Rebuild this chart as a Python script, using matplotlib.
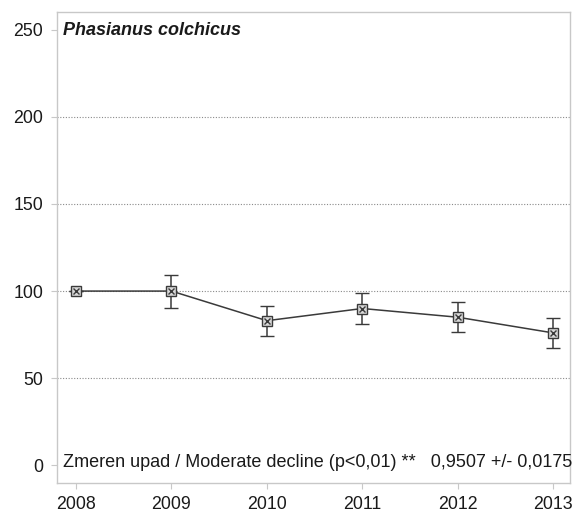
import matplotlib
matplotlib.use('Agg')
import matplotlib.pyplot as plt

years = [2008, 2009, 2010, 2011, 2012, 2013]
index = [100, 100, 83, 90, 85, 76]
err = [0, 9.5, 8.5, 9, 8.6, 8.4]
yticks = [0, 50, 100, 150, 200, 250]
grid_levels = [50, 100, 150, 200]

INK = '#1a1a1a'
LINE = '#3a3a3a'
FRAME = '#c8c8c8'
GRID = '#8a8a8a'

plt.rcParams['font.family'] = ['Liberation Sans', 'DejaVu Sans']

fig = plt.figure(figsize=(5.76, 5.13), dpi=100, facecolor='white')
ax = fig.add_axes([0.099, 0.058, 0.891, 0.919])

for g in grid_levels:
    ax.axhline(g, color=GRID, lw=0.8, ls=(0, (1, 1.5)), zorder=0)

ax.errorbar(years, index, yerr=err, color=LINE, lw=1.1, elinewidth=1.1,
            capsize=5, capthick=1.1, zorder=3,
            marker='s', ms=7, mfc='#d8d8d8', mec=LINE, mew=1.0)
ax.plot(years, index, ls='none', marker='x', ms=5, mec=LINE, mew=1.0, zorder=4)

ax.set_xlim(2007.8, 2013.18)
ax.set_ylim(-10.3, 260.3)
ax.set_xticks(years)
ax.set_yticks(yticks)
ax.tick_params(axis='both', labelsize=12.8, colors=FRAME, labelcolor=INK, length=4, width=0.8)
ax.tick_params(axis='x', pad=5)
ax.tick_params(axis='y', pad=6)
for s in ax.spines.values():
    s.set_color(FRAME)
    s.set_linewidth(1.0)

ax.text(0.012, 0.96, 'Phasianus colchicus', transform=ax.transAxes,
        fontsize=13, fontweight='bold', fontstyle='italic', color=INK,
        ha='left', va='center')
ax.text(0.012, 0.043,
        'Zmeren upad / Moderate decline (p<0,01) **   0,9507 +/- 0,0175',
        transform=ax.transAxes, fontsize=13, color=INK, ha='left', va='center')

fig.savefig('out.png', dpi=100, facecolor='white')
